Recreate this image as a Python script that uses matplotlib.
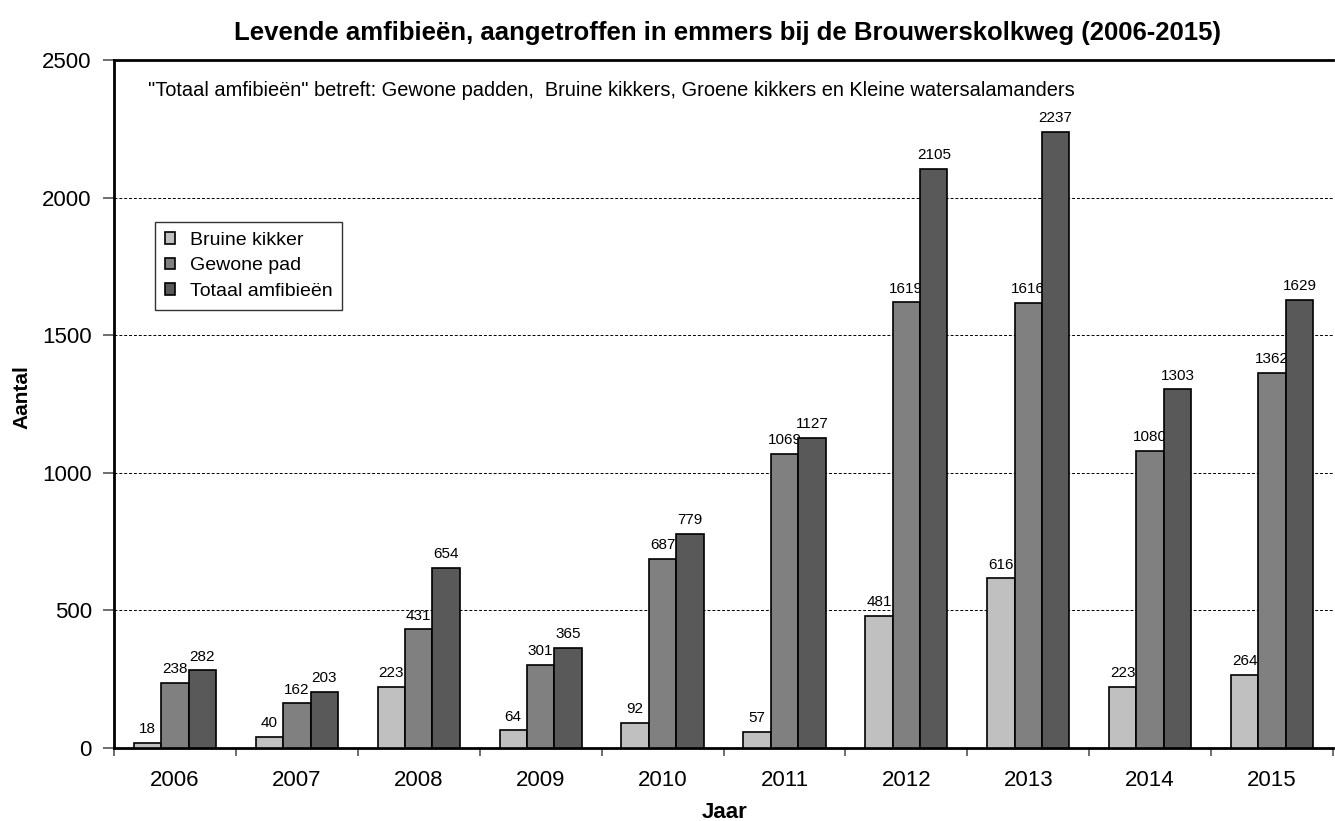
import matplotlib
matplotlib.use("Agg")
import matplotlib.pyplot as plt
import numpy as np
from matplotlib.ticker import FixedLocator

plt.rcParams['font.family'] = ['Liberation Sans', 'DejaVu Sans']

years = ["2006", "2007", "2008", "2009", "2010", "2011", "2012", "2013", "2014", "2015"]
bruine_kikker = [18, 40, 223, 64, 92, 57, 481, 616, 223, 264]
gewone_pad = [238, 162, 431, 301, 687, 1069, 1619, 1616, 1080, 1362]
totaal = [282, 203, 654, 365, 779, 1127, 2105, 2237, 1303, 1629]
series_names = ["Bruine kikker", "Gewone pad", "Totaal amfibieën"]
colors = ["#C0C0C0", "#808080", "#595959"]

fig = plt.figure(figsize=(13.35, 8.21), dpi=100)
ax = fig.add_axes([114/1335, 1 - 748/821, (1333-114)/1335, (748-60)/821])

x = np.arange(len(years))
w = 0.225
for i, (vals, name, c) in enumerate(zip([bruine_kikker, gewone_pad, totaal], series_names, colors)):
    pos = x + (i - 1) * w
    ax.bar(pos, vals, width=w, color=c, edgecolor="black", linewidth=1.2, label=name, zorder=3)
    for p, v in zip(pos, vals):
        ax.text(p, v + 25, str(v), ha="center", va="bottom", fontsize=11)

ax.set_xlim(-0.5, len(years) - 0.5)
ax.set_ylim(0, 2500)
ax.set_yticks([0, 500, 1000, 1500, 2000, 2500])
ax.yaxis.grid(True, linestyle=(0, (3, 2)), color="black", linewidth=0.7, zorder=0)
ax.set_xticks(x)
ax.set_xticklabels(years, fontsize=16)
ax.xaxis.set_minor_locator(FixedLocator(np.arange(-0.5, len(years), 1.0)))
ax.tick_params(axis="x", which="major", length=0, pad=16)
ax.tick_params(axis="x", which="minor", length=6, direction="out", width=1.2, color="#555555")
ax.tick_params(axis="y", labelsize=16, length=8, direction="out", width=1.2, color="#555555", pad=8)

for s in ["left", "bottom", "top"]:
    ax.spines[s].set_linewidth(2)
ax.spines["right"].set_visible(False)

ax.set_xlabel("Jaar", fontsize=16, fontweight="bold")
ax.xaxis.set_label_coords(0.5 + (725 - 723.5) / 1219, -(802 - 748) / 688)
ax.set_ylabel("Aantal", fontsize=15, fontweight="bold")
ax.yaxis.set_label_coords((31 - 114) / 1219, 0.51)
fig.text(727/1335, 1 - 33/821, "Levende amfibieën, aangetroffen in emmers bij de Brouwerskolkweg (2006-2015)",
         ha="center", va="center", fontsize=18.5, fontweight="bold")
fig.text(148/1335, 1 - 90/821,
         "\"Totaal amfibieën\" betreft: Gewone padden,  Bruine kikkers, Groene kikkers en Kleine watersalamanders",
         ha="left", va="center", fontsize=14.4)

leg = ax.legend(loc="upper left", bbox_to_anchor=((155-114)/1219, (748-222)/688),
                frameon=True, fancybox=False, edgecolor="black", fontsize=14,
                handlelength=0.55, handleheight=0.55, handletextpad=0.75, borderpad=0.5,
                labelspacing=0.45, borderaxespad=0)
leg.get_frame().set_linewidth(1.0)

fig.savefig("out.png", dpi=100)
